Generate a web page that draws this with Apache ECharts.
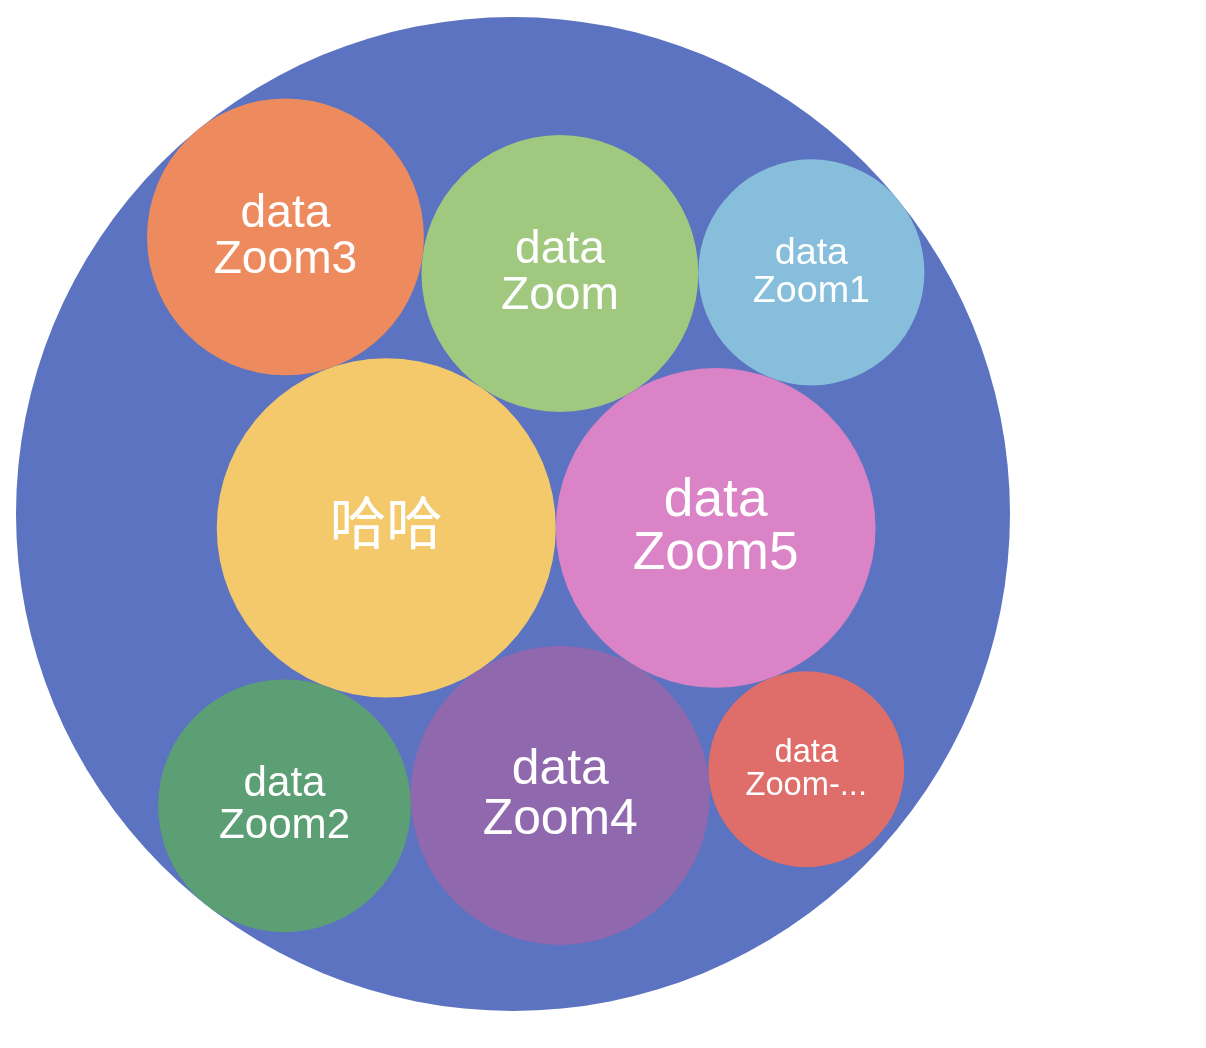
<!DOCTYPE html>
<html>
<head>
<meta charset="utf-8">
<title>circle packing</title>
<style>
  html, body { margin: 0; padding: 0; background: #fff; }
  #main { width: 1206px; height: 1048px; }
</style>
<script src="https://cdn.jsdelivr.net/npm/echarts@6/dist/echarts.min.js"></script>
</head>
<body>
<div id="main"></div>
<script>
// 数据
var rootName = 'option';
var childNames = ['dataZoom', '哈哈', 'dataZoom-inside', 'dataZoom1', 'dataZoom2', 'dataZoom3', 'dataZoom4', 'dataZoom5'];
var childValues = [6, 9, 3, 4, 5, 6, 7, 8];
// 颜色: root 在前, 然后按 childNames 的顺序
var colors = ['#5b73c0', '#a0c87e', '#f3c96c', '#df6d69', '#86bedb', '#5c9f74', '#ed8b5e', '#9068ae', '#da83c6'];

// ---- circle packing (front-chain, same idea as d3.packSiblings) ----
function place(b, a, c) {
  var dx = b.x - a.x, dy = b.y - a.y, d2 = dx * dx + dy * dy, x, y, a2, b2;
  if (d2) {
    a2 = a.r + c.r; a2 *= a2;
    b2 = b.r + c.r; b2 *= b2;
    if (a2 > b2) {
      x = (d2 + b2 - a2) / (2 * d2);
      y = Math.sqrt(Math.max(0, b2 / d2 - x * x));
      c.x = b.x - x * dx - y * dy;
      c.y = b.y - x * dy + y * dx;
    } else {
      x = (d2 + a2 - b2) / (2 * d2);
      y = Math.sqrt(Math.max(0, a2 / d2 - x * x));
      c.x = a.x + x * dx - y * dy;
      c.y = a.y + x * dy + y * dx;
    }
  } else {
    c.x = a.x + c.r;
    c.y = a.y;
  }
}

function intersects(a, b) {
  var dr = a.r + b.r - 1e-6, dx = b.x - a.x, dy = b.y - a.y;
  return dr > 0 && dr * dr > dx * dx + dy * dy;
}

function score(node) {
  var a = node._, b = node.next._, ab = a.r + b.r,
      dx = (a.x * b.r + b.x * a.r) / ab,
      dy = (a.y * b.r + b.y * a.r) / ab;
  return dx * dx + dy * dy;
}

function Node(circle) {
  this._ = circle;
  this.next = null;
  this.previous = null;
}

function packSiblings(circles) {
  var n = circles.length, a, b, c, aa, ca, i, j, k, sj, sk;
  a = circles[0]; a.x = 0; a.y = 0;
  if (n < 2) return;
  b = circles[1]; a.x = -b.r; b.x = a.r; b.y = 0;
  if (n < 3) return;
  place(b, a, c = circles[2]);

  a = new Node(a); b = new Node(b); c = new Node(c);
  a.next = c.previous = b;
  b.next = a.previous = c;
  c.next = b.previous = a;

  pack: for (i = 3; i < n; ++i) {
    place(a._, b._, c = circles[i]);
    c = new Node(c);
    j = b.next; k = a.previous; sj = b._.r; sk = a._.r;
    do {
      if (sj <= sk) {
        if (intersects(j._, c._)) {
          b = j; a.next = b; b.previous = a; --i;
          continue pack;
        }
        sj += j._.r; j = j.next;
      } else {
        if (intersects(k._, c._)) {
          a = k; a.next = b; b.previous = a; --i;
          continue pack;
        }
        sk += k._.r; k = k.previous;
      }
    } while (j !== k.next);

    c.previous = a; c.next = b; a.next = b.previous = b = c;

    aa = score(a);
    while ((c = c.next) !== b) {
      if ((ca = score(c)) < aa) {
        a = c; aa = ca;
      }
    }
    b = a.next;
  }
}

// 最小外接圆, 用逐步缩小的网格搜索
function encloseCircles(list) {
  function far(x, y) {
    var m = 0;
    list.forEach(function (c) {
      var d = Math.sqrt((c.x - x) * (c.x - x) + (c.y - y) * (c.y - y)) + c.r;
      if (d > m) m = d;
    });
    return m;
  }
  var cx = 0, cy = 0;
  list.forEach(function (c) { cx += c.x; cy += c.y; });
  cx /= list.length; cy /= list.length;
  var best = far(cx, cy), step = best;
  for (var it = 0; it < 60; it++) {
    var bx = cx, by = cy;
    for (var i = -10; i <= 10; i++) {
      for (var j = -10; j <= 10; j++) {
        var x = cx + i * step / 10, y = cy + j * step / 10, v = far(x, y);
        if (v < best) { best = v; bx = x; by = y; }
      }
    }
    cx = bx; cy = by; step *= 0.6;
  }
  return { x: cx, y: cy, r: best };
}

// 布局: 面积和 value 成正比, 按 value 从大到小排
var circles = childNames.map(function (name, i) {
  return { index: i, r: Math.sqrt(childValues[i]), x: 0, y: 0 };
});
var ordered = circles.slice().sort(function (p, q) {
  return childValues[q.index] - childValues[p.index];
});
packSiblings(ordered);
var outer = encloseCircles(ordered);

var seriesData = [[0, 0, outer.r, 0]];
var labels = [''];
circles.forEach(function (c, i) {
  seriesData.push([c.x - outer.x, c.y - outer.y, c.r, 1]);
  labels.push(childNames[i].split(/(?=[A-Z][^A-Z])/g).join('\n'));
});

function renderItem(params, api) {
  var p = api.coord([api.value(0), api.value(1)]);
  var r = api.size([api.value(2), 0])[0];
  var depth = api.value(3);
  return {
    type: 'circle',
    shape: { cx: p[0], cy: p[1], r: r },
    z2: depth * 2,
    style: { fill: api.visual('color') },
    textContent: {
      type: 'text',
      style: {
        text: labels[params.dataIndex],
        fontFamily: 'Arial, "Liberation Sans", "Noto Sans CJK SC"',
        fontSize: r / 3,
        width: r * 1.3,
        overflow: 'truncate',
        fill: '#fff'
      }
    },
    textConfig: { position: 'inside' }
  };
}

var chart = echarts.init(document.getElementById('main'));
var option = {
  animation: false,
  color: colors,
  grid: { left: 16, top: 17, width: 994, height: 994 },
  xAxis: { type: 'value', min: -outer.r, max: outer.r, show: false },
  yAxis: { type: 'value', min: -outer.r, max: outer.r, inverse: true, show: false },
  series: [
    {
      name: rootName,
      type: 'custom',
      colorBy: 'data',
      coordinateSystem: 'cartesian2d',
      encode: { x: 0, y: 1 },
      renderItem: renderItem,
      data: seriesData
    }
  ]
};
chart.setOption(option);
</script>
</body>
</html>
